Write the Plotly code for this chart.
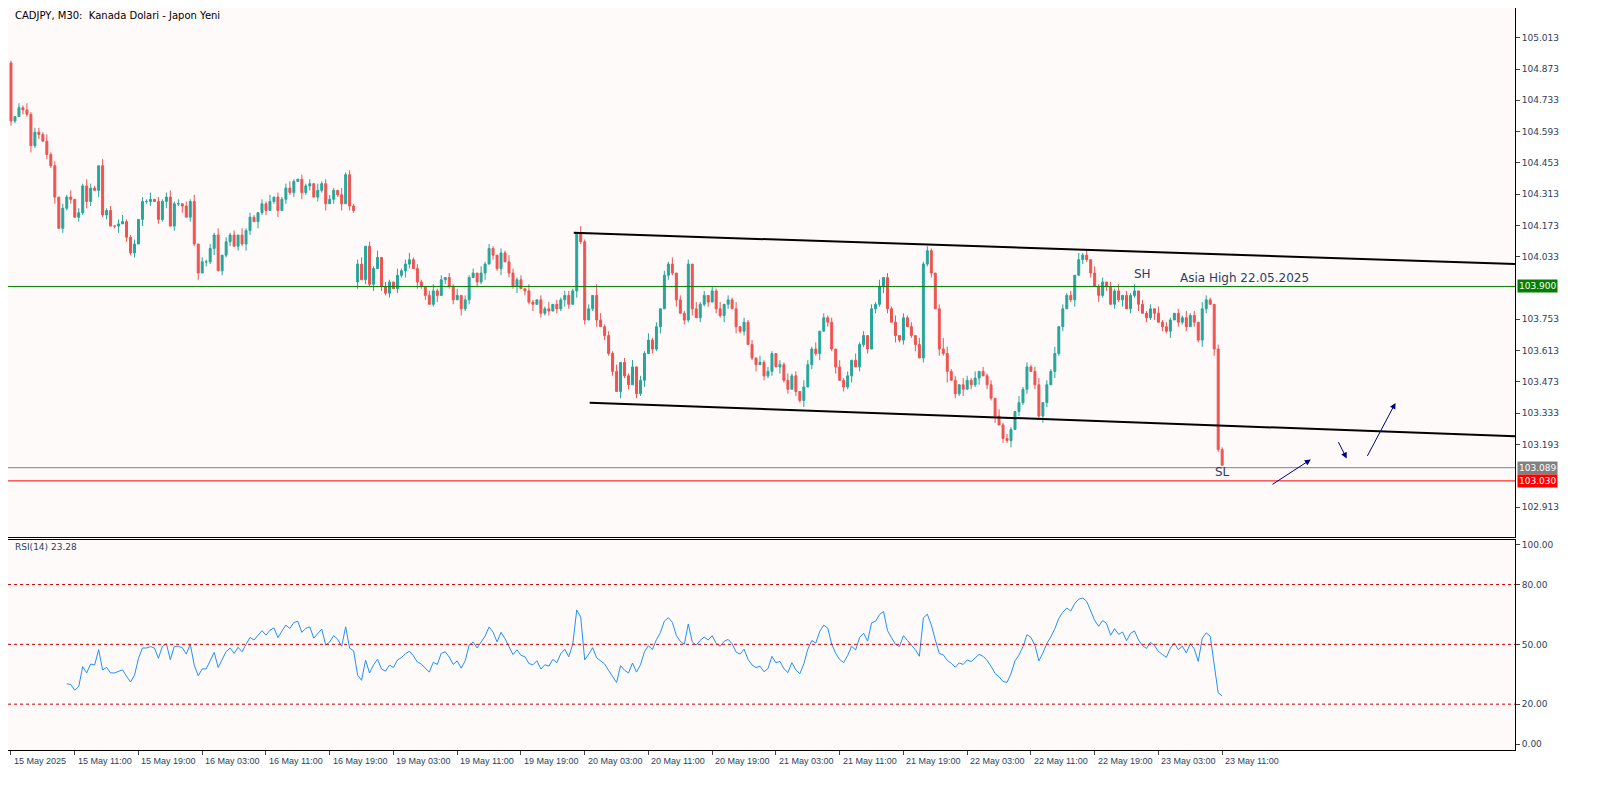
import plotly.graph_objects as go
import numpy as np

closes = [
104.64,104.66,104.70,104.69,104.67,104.53,104.59,104.58,104.55,104.49,
104.44,104.30,104.16,104.25,104.30,104.29,104.21,104.23,104.35,104.28,
104.34,104.33,104.44,104.22,104.24,104.17,104.17,104.18,104.19,104.12,
104.05,104.09,104.20,104.28,104.28,104.29,104.28,104.20,104.28,104.30,
104.17,104.27,104.27,104.26,104.21,104.28,104.09,103.96,104.01,104.01,
104.07,104.13,103.97,104.04,104.10,104.13,104.08,104.13,104.09,104.15,
104.21,104.19,104.23,104.27,104.24,104.28,104.30,104.24,104.29,104.34,
104.32,104.37,104.38,104.32,104.35,104.36,104.30,104.33,104.36,104.27,
104.29,104.33,104.31,104.27,104.40,104.26,104.24,
104.00,103.93,104.08,103.91,103.98,104.03,103.90,103.87,103.92,103.89,103.95,103.97,104.00,
104.02,103.98,103.92,103.90,103.86,103.82,103.88,103.86,103.93,103.94,
103.90,103.84,103.86,103.80,103.84,103.94,103.96,103.92,103.96,104.00,
104.07,104.04,103.98,104.05,104.01,103.96,103.90,103.93,103.89,103.88,
103.83,103.82,103.84,103.78,103.80,103.79,103.82,103.80,103.84,103.86,
103.82,103.88,104.14,104.10,103.75,103.80,103.86,103.75,103.72,103.68,
103.60,103.52,103.43,103.56,103.50,103.46,103.54,103.42,103.48,103.60,
103.66,103.62,103.72,103.80,103.95,104.00,103.96,103.84,103.78,103.75,
104.00,103.80,103.76,103.82,103.86,103.83,103.88,103.80,103.77,103.82,
103.84,103.80,103.72,103.70,103.74,103.64,103.58,103.55,103.56,103.50,
103.52,103.60,103.54,103.55,103.48,103.44,103.50,103.43,103.39,103.45,
103.55,103.62,103.60,103.70,103.76,103.74,103.62,103.54,103.48,103.45,
103.50,103.57,103.54,103.64,103.68,103.62,103.80,103.82,103.90,103.94,
103.80,103.74,103.68,103.66,103.76,103.72,103.68,103.64,103.58,104.00,
104.06,103.96,103.80,103.62,103.60,103.52,103.48,103.42,103.46,103.44,
103.48,103.46,103.49,103.52,103.50,103.46,103.40,103.32,103.28,103.22,
103.21,103.26,103.34,103.38,103.44,103.54,103.52,103.46,103.32,103.38,
103.46,103.52,103.60,103.72,103.80,103.86,103.84,103.95,104.02,104.04,
104.02,103.96,103.90,103.86,103.92,103.90,103.82,103.88,103.84,103.86,
103.80,103.86,103.88,103.82,103.78,103.76,103.80,103.78,103.74,103.72,
103.70,103.75,103.78,103.74,103.76,103.72,103.77,103.74,103.66,103.80,
103.84,103.82,103.62,103.17,103.10]
first_open = 104.90
gap_index = 87
gap_open = 103.92
# wick sizes in hundredths of a yen (upper / lower), read per bar
upper_wick = ("1021312213" "1202130213" "2103120231" "1202130212" "3120213021"
              "2130212031" "2102130212" "3102120312" "2103121230" "2130210312"
              "3121023120" "2130212031" "2102132120" "3102130212" "2103120531"
              "2130213021" "3120213021" "2031202130" "2130212031" "2102131203"
              "2130212031" "2031202130" "2130212031" "2102531203" "2130212031"
              "2103121230" "2130212031" "2031202130" "2130212031" "2102131203"
              "21021")
lower_wick = ("2102131202" "1302120213" "2031201302" "1203120213" "0213021302"
              "1302120213" "2031201302" "1203120213" "0213021302" "1302120213"
              "2031201302" "1203120213" "0213021302" "1302120213" "2031201302"
              "1203120213" "0213021302" "1302120213" "2031201302" "1203120213"
              "0213021302" "1302120213" "2031201302" "1203150213" "0213021302"
              "1302120213" "2031201302" "1203120213" "0213021302" "1302120213"
              "20310")

tick_labels = ["15 May 2025","15 May 11:00","15 May 19:00","16 May 03:00","16 May 11:00",
               "16 May 19:00","19 May 03:00","19 May 11:00","19 May 19:00","20 May 03:00",
               "20 May 11:00","20 May 19:00","21 May 03:00","21 May 11:00","21 May 19:00",
               "22 May 03:00","22 May 11:00","22 May 19:00","23 May 03:00","23 May 11:00"]
price_ticks = [105.013,104.873,104.733,104.593,104.453,104.313,104.173,104.033,
               103.753,103.613,103.473,103.333,103.193,102.913]
rsi_levels = [80, 50, 20]
rsi_ticks = [100, 80, 50, 20, 0]
upper_channel_x = [141.25, 377.5]; upper_channel_y = [104.14, 104.00]
lower_channel_x = [145.25, 377.5]; lower_channel_y = [103.38, 103.23]
asia_high = 103.900
gray_level = 103.089
red_level = 103.030
arrows = [((316.25, 103.01), (326.25, 103.126)),
          ((333.0, 103.21), (335.25, 103.13)),
          ((340.25, 103.135), (347.5, 103.379))]

n = len(closes)
x = np.arange(n)
opens = [first_open] + closes[:-1]
opens[gap_index] = gap_open
highs = [max(o, c) + int(upper_wick[i]) * 0.01 for i, (o, c) in enumerate(zip(opens, closes))]
lows = [min(o, c) - int(lower_wick[i]) * 0.01 for i, (o, c) in enumerate(zip(opens, closes))]

# RSI(14), Wilder
cl = np.array(closes)
d = np.diff(cl)
g = np.where(d > 0, d, 0); l = np.where(d < 0, -d, 0)
rsi = [None] * n
ag = g[:14].mean(); al = l[:14].mean()
for i in range(14, n):
    if i > 14:
        ag = (ag * 13 + g[i-1]) / 14; al = (al * 13 + l[i-1]) / 14
    rsi[i] = 100 - 100 / (1 + ag / al) if al > 0 else 100

fig = go.Figure()
fig.add_trace(go.Candlestick(x=x, open=opens, high=highs, low=lows, close=closes,
    increasing=dict(line=dict(color="#26a69a", width=1), fillcolor="#26a69a"),
    decreasing=dict(line=dict(color="#ef5350", width=1), fillcolor="#ef5350"),
    whiskerwidth=0, xaxis="x", yaxis="y", showlegend=False))
fig.add_trace(go.Scatter(x=upper_channel_x, y=upper_channel_y, mode="lines",
    line=dict(color="black", width=2), xaxis="x", yaxis="y", showlegend=False))
fig.add_trace(go.Scatter(x=lower_channel_x, y=lower_channel_y, mode="lines",
    line=dict(color="black", width=2), xaxis="x", yaxis="y", showlegend=False))
fig.add_trace(go.Scatter(x=x, y=rsi, mode="lines", line=dict(color="#1e90ff", width=1),
    xaxis="x2", yaxis="y2", showlegend=False))

xr = [-0.75, 377.5]
for lvl, col in [(asia_high, "green"), (gray_level, "gray"), (red_level, "red")]:
    fig.add_shape(type="line", xref="x", yref="y", x0=xr[0], x1=xr[1], y0=lvl, y1=lvl,
                  line=dict(color=col, width=1))
for lvl in rsi_levels:
    fig.add_shape(type="line", xref="x2", yref="y2", x0=xr[0], x1=xr[1], y0=lvl, y1=lvl,
                  line=dict(color="#cc0000", width=1, dash="dot"))

font = dict(family="DejaVu Sans", size=10, color="black")
ann = []
for (x0, y0), (x1, y1) in arrows:
    ann.append(dict(x=x1, y=y1, ax=x0, ay=y0, xref="x", yref="y", axref="x", ayref="y",
                    showarrow=True, arrowhead=2, arrowsize=1.2, arrowwidth=1, arrowcolor="#000080", text=""))
ann += [
    dict(x=284, y=103.955, xref="x", yref="y", text="SH", showarrow=False, font=dict(family="DejaVu Sans", size=12)),
    dict(x=293, y=103.94, xref="x", yref="y", text="Asia High 22.05.2025", showarrow=False, xanchor="left",
         font=dict(family="DejaVu Sans", size=12)),
    dict(x=304, y=103.07, xref="x", yref="y", text="SL", showarrow=False, font=dict(family="DejaVu Sans", size=12)),
    dict(x=0.003, y=1.0, xref="paper", yref="paper", text="CADJPY, M30:  Kanada Dolari - Japon Yeni",
         showarrow=False, xanchor="left", yanchor="top", font=font),
    dict(x=0.003, y=0.2834, xref="paper", yref="paper", text="RSI(14) 23.28",
         showarrow=False, xanchor="left", yanchor="top", font=dict(family="DejaVu Sans", size=9)),
]
for lvl, col, txt in [(asia_high, "green", "103.900"), (gray_level, "gray", "103.089"), (red_level, "red", "103.030")]:
    ann.append(dict(x=1.0, y=lvl, xref="paper", yref="y", text=txt, showarrow=False, xanchor="left",
                    xshift=2, bgcolor=col, font=dict(family="DejaVu Sans", size=9, color="white"), borderpad=1))
for k, t in enumerate(tick_labels):
    ann.append(dict(x=k*16, y=0, xref="x2", yref="paper", text=t, showarrow=False, xanchor="left",
                    yanchor="top", yshift=-4, xshift=1, font=dict(family="Liberation Sans", size=9)))

fig.update_layout(
    width=1585, height=770, paper_bgcolor="white", plot_bgcolor="#fffafa",
    margin=dict(l=0, r=78, t=0, b=28), annotations=ann,
    xaxis=dict(range=xr, domain=[0, 1], anchor="y", showticklabels=False, showgrid=False,
               zeroline=False, showline=True, linecolor="black", mirror=True, rangeslider=dict(visible=False)),
    yaxis=dict(range=[102.780, 105.146], domain=[0.2874, 1], side="right", tickvals=price_ticks,
               ticktext=[f"{v:.3f}" for v in price_ticks], showgrid=False, zeroline=False,
               showline=True, linecolor="black", mirror=True, ticks="outside", ticklen=4,
               tickfont=dict(family="DejaVu Sans", size=9)),
    xaxis2=dict(range=xr, domain=[0, 1], anchor="y2", tickvals=[k*16 for k in range(len(tick_labels))],
                showticklabels=False, ticks="outside", ticklen=4, showgrid=False, zeroline=False,
                showline=True, linecolor="black", mirror=True),
    yaxis2=dict(range=[-3, 102.5], domain=[0, 0.2834], side="right", tickvals=rsi_ticks,
                ticktext=[f"{v:.2f}" for v in rsi_ticks], showgrid=False, zeroline=False,
                showline=True, linecolor="black", mirror=True, ticks="outside", ticklen=4,
                tickfont=dict(family="DejaVu Sans", size=9)),
)
fig.write_html("out.html")
